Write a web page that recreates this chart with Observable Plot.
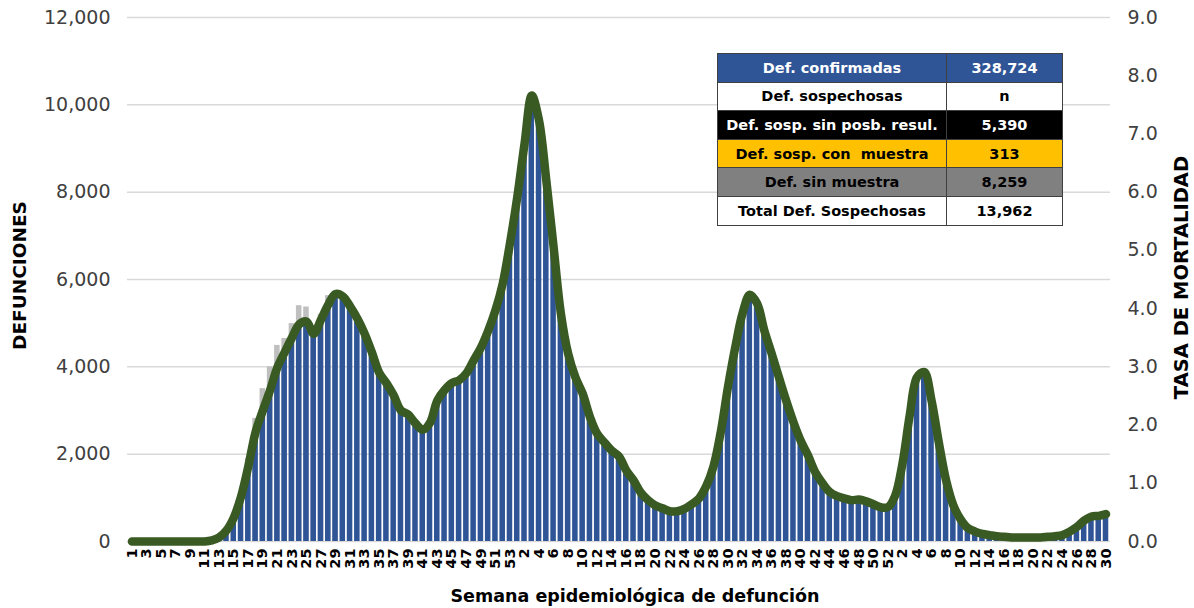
<!DOCTYPE html>
<html><head><meta charset="utf-8">
<script src="https://cdn.jsdelivr.net/npm/d3@7"></script>
<script src="https://cdn.jsdelivr.net/npm/@observablehq/plot@0.6"></script>
<style>
body{margin:0;background:#fff;font-family:"DejaVu Sans",sans-serif;}
#wrap{position:relative;width:1194px;height:608px;overflow:hidden;}
.ttl{position:absolute;font-weight:bold;color:#000;white-space:nowrap;}
table.res{position:absolute;left:717px;top:53px;border-collapse:collapse;font-family:"DejaVu Sans",sans-serif;font-weight:bold;font-size:14.5px;}
table.res td{border:1px solid #404040;height:27.6px;padding:0;text-align:center;white-space:pre;}
table.res td.a{width:228px;} table.res td.b{width:115px;}
</style></head><body><div id="wrap"></div>
<script>
// Semanas epidemiológicas por año
const anios = [2020, 2021, 2022];
const semanasPorAnio = [53, 52, 30];

// Defunciones confirmadas por semana (barras azules)
const conf2020 = [0,0,0,0,0,0,0,0,0,0,5,20,90,250,550,1030,1720,2500,3000,3460,3980,4330,4670,4970,5040,4760,5080,5430,5660,5610,5380,5110,4760,4330,3870,3620,3340,3000,2910,2700,2560,2720,3230,3460,3620,3690,3850,4140,4440,4830,5290,5910,6820];
const conf2021 = [7880,9110,10100,9640,8270,6740,5220,4300,3760,3390,2850,2470,2270,2080,1950,1630,1400,1120,940,820,760,690,690,750,850,990,1260,1720,2500,3550,4450,5220,5650,5450,4830,4300,3760,3230,2730,2310,1970,1590,1330,1130,1040,980,940,955,915,850,785,790];
const conf2022 = [1050,1780,2890,3760,3880,3230,2270,1400,820,500,305,230,175,140,115,100,95,90,90,90,95,100,120,150,220,330,480,570,590,620];

// Defunciones confirmadas + sospechosas (barras grises), 2020
const grisSemanas2020 = [17,18,19,20,21,22,23,24,25,26,27,28,29];
const grisValores2020 = [1900,2820,3500,4000,4490,4650,4990,5400,5370,4850,5200,5630,5700];

// Tasa de mortalidad (línea verde, eje derecho)
const tasa2020 = [0,0,0,0,0,0,0,0,0,0,0.00,0.02,0.07,0.19,0.41,0.77,1.29,1.88,2.25,2.60,2.99,3.25,3.50,3.73,3.78,3.57,3.81,4.07,4.25,4.21,4.04,3.83,3.57,3.25,2.90,2.72,2.51,2.25,2.18,2.03,1.92,2.04,2.42,2.60,2.72,2.77,2.89,3.11,3.33,3.62,3.97,4.43,5.12];
const tasa2021 = [5.91,6.83,7.66,7.23,6.20,5.06,3.92,3.23,2.82,2.54,2.14,1.85,1.70,1.56,1.46,1.22,1.05,0.84,0.71,0.62,0.57,0.52,0.52,0.56,0.64,0.74,0.95,1.29,1.88,2.66,3.34,3.92,4.24,4.09,3.62,3.23,2.82,2.42,2.05,1.73,1.48,1.19,1.00,0.85,0.78,0.74,0.71,0.72,0.69,0.64,0.59,0.59];
const tasa2022 = [0.79,1.34,2.17,2.82,2.91,2.42,1.70,1.05,0.62,0.38,0.23,0.17,0.13,0.11,0.09,0.08,0.07,0.07,0.07,0.07,0.07,0.08,0.09,0.11,0.17,0.25,0.36,0.43,0.44,0.47];

// Ejes
const ticksIzq = [0,2000,4000,6000,8000,10000,12000];
const ticksDer = [0,1,2,3,4,5,6,7,8,9];
const yMax = 12000, tasaMax = 9;

// Tabla resumen
const tablaEtiquetas = ["Def. confirmadas","Def. sospechosas","Def. sosp. sin posb. resul.","Def. sosp. con  muestra","Def. sin muestra","Total Def. Sospechosas"];
const tablaValores = ["328,724","n","5,390","313","8,259","13,962"];
const tablaFondos = ["#2F5597","#FFFFFF","#000000","#FFC000","#808080","#FFFFFF"];
const tablaTexto = ["#FFFFFF","#000000","#FFFFFF","#000000","#000000","#000000"];

// Construcción de la tabla de datos
const confs = [conf2020, conf2021, conf2022];
const tasas = [tasa2020, tasa2021, tasa2022];
const data = [];
anios.forEach((a, k) => {
  for (let w = 1; w <= semanasPorAnio[k]; w++) {
    data.push({i: data.length, anio: a, semana: w, conf: confs[k][w-1], tasa: tasas[k][w-1]});
  }
});
const gris = grisSemanas2020.map((w, j) => ({i: w - 1, v: grisValores2020[j]}));
const idx = data.map(d => d.i);
const tickIdx = idx.filter(i => i % 2 === 0);

const plot = Plot.plot({
  width: 1194, height: 608,
  marginLeft: 127, marginRight: 84, marginTop: 17, marginBottom: 67,
  style: {fontFamily: "DejaVu Sans, sans-serif", background: "#fff"},
  x: {type: "band", domain: idx, padding: 0.24, axis: null},
  y: {domain: [0, yMax], axis: null},
  marks: [
    Plot.ruleY(ticksIzq, {stroke: "#d9d9d9", strokeWidth: 1.5}),
    Plot.barY(gris, {x: "i", y: "v", fill: "#BFBFBF"}),
    Plot.barY(data, {x: "i", y: "conf", fill: "#2F5597"}),
    Plot.line(data, {x: "i", y: d => d.tasa * yMax / tasaMax, stroke: "#3A5A24", strokeWidth: 8.5, curve: "catmull-rom", strokeLinejoin: "round", strokeLinecap: "round"}),
    Plot.axisY({anchor: "left", ticks: ticksIzq, tickFormat: d3.format(","), tickSize: 0, tickPadding: 17, fontSize: 19, fill: "#404040", label: null}),
    Plot.axisY({anchor: "right", ticks: ticksDer.map(t => t * yMax / tasaMax), tickFormat: d => (d * tasaMax / yMax).toFixed(1), tickSize: 0, tickPadding: 17, fontSize: 19, fill: "#404040", label: null}),
    Plot.axisX({ticks: tickIdx, tickFormat: i => data[i].semana, tickRotate: -90, tickSize: 0, tickPadding: 7, fontSize: 14.5, fontWeight: "bold", fill: "#000", label: null})
  ]
});

const wrap = document.getElementById("wrap");
wrap.appendChild(plot);

function addTitle(text, cx, cy, size, rot) {
  const el = document.createElement("div");
  el.className = "ttl";
  el.textContent = text;
  el.style.fontSize = size + "px";
  wrap.appendChild(el);
  const w = el.offsetWidth, h = el.offsetHeight;
  el.style.left = (cx - w / 2) + "px";
  el.style.top = (cy - h / 2) + "px";
  if (rot) el.style.transform = "rotate(" + rot + "deg)";
}
addTitle("DEFUNCIONES", 19, 275, 18.5, -90);
addTitle("TASA DE MORTALIDAD", 1181, 277, 19.5, -90);
addTitle("Semana epidemiológica de defunción", 635, 596, 17.5, 0);

const tbl = document.createElement("table");
tbl.className = "res";
tablaEtiquetas.forEach((t, r) => {
  const tr = document.createElement("tr");
  const a = document.createElement("td"); a.className = "a"; a.textContent = t;
  const b = document.createElement("td"); b.className = "b"; b.textContent = tablaValores[r];
  [a, b].forEach(td => { td.style.background = tablaFondos[r]; td.style.color = tablaTexto[r]; });
  tr.appendChild(a); tr.appendChild(b);
  tbl.appendChild(tr);
});
wrap.appendChild(tbl);
</script></body></html>
